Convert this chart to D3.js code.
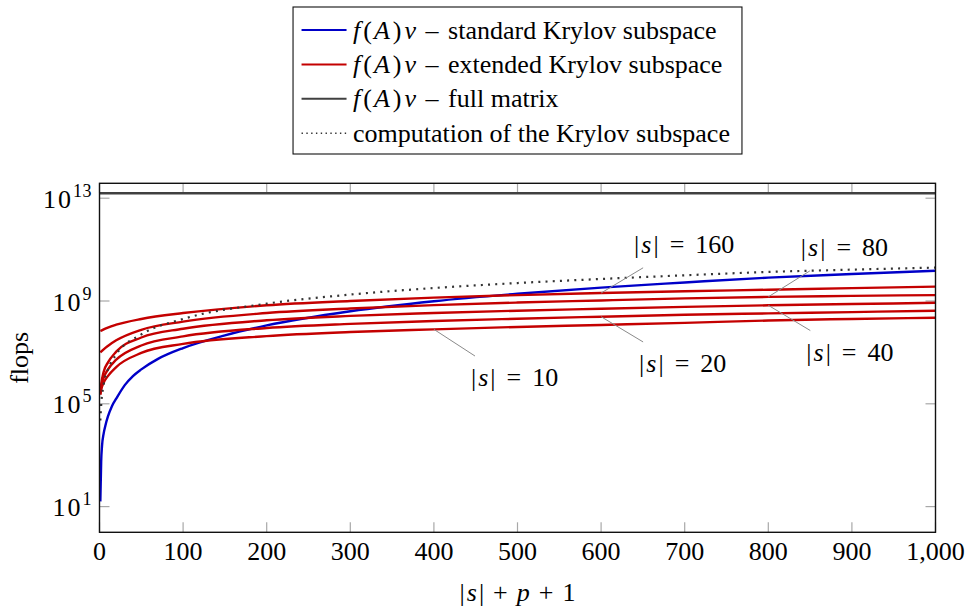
<!DOCTYPE html>
<html>
<head>
<meta charset="utf-8">
<script src="https://cdn.jsdelivr.net/npm/d3@7"></script>
<style>
    html, body { margin: 0; padding: 0; background: #fff; }
    svg { display: block; }
</style>
</head>
<body>
<svg id="chart" width="966" height="609" font-family="'Liberation Serif', 'Times New Roman', serif"></svg>
<script>
// values (flops against |s|+p+1)
const xs = [1, 2, 5, 10, 20, 50, 100, 200, 300, 400, 500, 600, 700, 800, 900, 1000];
const standardX = [1, 2, 3, 5, 7, 10, 15, 20, 30, 40, 50, 70, 100, 150, 200, 300, 400, 500,
    600, 700, 800, 900, 1000];
const standardKrylov = [16, 5.6e2, 2.24e3, 7.1e3, 1.41e4, 3.16e4, 8.3e4, 1.58e5, 5.2e5, 1.2e6,
    2.19e6, 5.6e6, 1.48e7, 4.6e7, 1.12e8, 3.98e8, 9.77e8, 1.91e9, 3.31e9, 5.25e9, 8.13e9,
    1.12e10, 1.51e10];
const extended160 = [6.9e7, 7.1e7, 7.9e7, 9.3e7, 1.2e8, 2.0e8, 3.4e8, 6.8e8, 1.0e9, 1.35e9,
    1.7e9, 2.04e9, 2.4e9, 2.75e9, 3.16e9, 3.63e9];
const extended80 = [1.0e7, 1.07e7, 1.32e7, 1.78e7, 2.95e7, 7.6e7, 1.58e8, 3.4e8, 5.1e8, 6.9e8,
    8.7e8, 1.05e9, 1.26e9, 1.45e9, 1.58e9, 1.7e9];
const extended40 = [2.8e5, 5.6e5, 1.78e6, 4.0e6, 1.07e7, 3.8e7, 8.3e7, 1.78e8, 2.63e8, 3.4e8,
    4.2e8, 5.0e8, 5.9e8, 6.8e8, 7.6e8, 8.5e8];
const extended20 = [2.5e5, 4.5e5, 1.05e6, 2.14e6, 5.2e6, 1.86e7, 4.2e7, 8.9e7, 1.29e8, 1.66e8,
    2.04e8, 2.45e8, 2.9e8, 3.3e8, 3.7e8, 4.2e8];
const extended10 = [2.24e5, 3.55e5, 6.6e5, 1.2e6, 2.7e6, 9.5e6, 2.14e7, 4.3e7, 6.2e7, 7.9e7,
    9.8e7, 1.17e8, 1.41e8, 1.74e8, 2.0e8, 2.24e8];
const fullMatrixX = [0, 1000];
const fullMatrix = [1.55e13, 1.55e13];
const krylovSubspace = [2.24e4, 8.9e4, 5.6e5, 2.1e6, 8.3e6, 5.0e7, 2.0e8, 7.9e8, 1.78e9, 3.2e9,
    5.0e9, 7.2e9, 1.0e10, 1.35e10, 1.66e10, 2.0e10];

const poleCounts = [160, 80, 40, 20, 10];
const extendedSeries = [extended160, extended80, extended40, extended20, extended10];
const pinX = [600, 800, 800, 600, 400];

const xTicks = [0, 100, 200, 300, 400, 500, 600, 700, 800, 900, 1000];
const yTicks = [1e1, 1e5, 1e9, 1e13];

const Color = {
    blue: '#0000c8',
    red: '#c40000',
    full: '#404040',
    dots: '#333',
    tick: '#a8a8a8',
    pin: '#8a8a8a',
};
const Font = 26;
const Plot = { left: 99.5, right: 935.5, top: 183.3, bottom: 532.3 };

const svg = d3.select('#chart');

const x = d3.scaleLinear().domain([0, 1000]).range([Plot.left, Plot.right]);
const y = d3.scaleLog().domain([1, 10 ** 13.58]).range([Plot.bottom, Plot.top]);

// text made of parts [text, italic, dx] so math bits get italic and some room
function mathText(sel, parts) {
    parts.forEach(([t, it, dx]) => {
        sel.append('tspan')
            .attr('font-style', it ? 'italic' : 'normal')
            .attr('dx', dx || 0)
            .text(t);
    });
    return sel;
}

svg.append('defs').append('clipPath')
    .attr('id', 'plot-clip')
    .append('rect')
    .attr('x', Plot.left)
    .attr('y', Plot.top)
    .attr('width', Plot.right - Plot.left)
    .attr('height', Plot.bottom - Plot.top);

// ticks (inside, on all four sides)
const ticks = svg.append('g')
    .attr('stroke', Color.tick)
    .attr('stroke-width', 1.2);

ticks.selectAll('.xb')
    .data(xTicks)
    .join('line')
    .attr('x1', (d) => x(d)).attr('x2', (d) => x(d))
    .attr('y1', Plot.bottom).attr('y2', Plot.bottom - 10);
ticks.selectAll('.xt')
    .data(xTicks)
    .join('line')
    .attr('x1', (d) => x(d)).attr('x2', (d) => x(d))
    .attr('y1', Plot.top).attr('y2', Plot.top + 10);
ticks.selectAll('.yl')
    .data(yTicks)
    .join('line')
    .attr('x1', Plot.left).attr('x2', Plot.left + 10)
    .attr('y1', (d) => y(d)).attr('y2', (d) => y(d));
ticks.selectAll('.yr')
    .data(yTicks)
    .join('line')
    .attr('x1', Plot.right).attr('x2', Plot.right - 10)
    .attr('y1', (d) => y(d)).attr('y2', (d) => y(d));

// curves
const line = d3.line()
    .x((d) => x(d[0]))
    .y((d) => y(d[1]))
    .curve(d3.curveMonotoneX);

const curves = svg.append('g')
    .attr('clip-path', 'url(#plot-clip)')
    .attr('fill', 'none')
    .attr('stroke-linejoin', 'round');

curves.append('path')
    .attr('d', line(d3.zip(standardX, standardKrylov)))
    .attr('stroke', Color.blue)
    .attr('stroke-width', 2.4);

curves.selectAll('.ext')
    .data(extendedSeries)
    .join('path')
    .attr('d', (d) => line(d3.zip(xs, d)))
    .attr('stroke', Color.red)
    .attr('stroke-width', 2.4);

curves.append('path')
    .attr('d', line(d3.zip(fullMatrixX, fullMatrix)))
    .attr('stroke', Color.full)
    .attr('stroke-width', 2.4);

curves.append('path')
    .attr('d', line(d3.zip(xs, krylovSubspace)))
    .attr('stroke', Color.dots)
    .attr('stroke-width', 2.2)
    .attr('stroke-dasharray', '2 5.2');

// pins for |s| labels
const pinLen = 49;
const pinAngle = [31, 32, -31, -31, -33];
const pins = svg.append('g');
poleCounts.forEach((s, i) => {
    const px = x(pinX[i]);
    const py = y(extendedSeries[i][xs.indexOf(pinX[i])]);
    const a = (pinAngle[i] * Math.PI) / 180;
    const ex = px + pinLen * Math.cos(a);
    const ey = py - pinLen * Math.sin(a);
    pins.append('line')
        .attr('x1', px).attr('y1', py)
        .attr('x2', ex).attr('y2', ey)
        .attr('stroke', Color.pin)
        .attr('stroke-width', 1);
    const up = pinAngle[i] > 0;
    mathText(pins.append('text')
        .attr('x', up ? ex - 9 : ex - 4)
        .attr('y', up ? ey - 15 : ey + 30)
        .attr('font-size', Font),
    [['|', 0], ['s', 1, 2], ['|', 0, 2], ['=', 0, 11], [String(s), 0, 11]]);
});

// frame
svg.append('rect')
    .attr('x', Plot.left)
    .attr('y', Plot.top)
    .attr('width', Plot.right - Plot.left)
    .attr('height', Plot.bottom - Plot.top)
    .attr('fill', 'none')
    .attr('stroke', '#111')
    .attr('stroke-width', 1.4);

// tick labels
svg.append('g')
    .attr('font-size', Font)
    .attr('text-anchor', 'middle')
    .selectAll('text')
    .data(xTicks)
    .join('text')
    .attr('x', (d) => x(d))
    .attr('y', 559.7)
    .text(d3.format(','));

const yLabels = svg.append('g')
    .attr('font-size', Font)
    .attr('text-anchor', 'end')
    .attr('letter-spacing', 2)
    .selectAll('text')
    .data(yTicks)
    .join('text')
    .attr('x', 92)
    .attr('y', (d) => y(d) + 9.5);
yLabels.append('tspan').text('10');
yLabels.append('tspan')
    .attr('font-size', 18)
    .attr('letter-spacing', 0.5)
    .attr('dy', -11)
    .text((d) => Math.round(Math.log10(d)));

// axis titles
mathText(svg.append('text')
    .attr('x', (Plot.left + Plot.right) / 2)
    .attr('y', 601)
    .attr('text-anchor', 'middle')
    .attr('font-size', Font),
[['|', 0], ['s', 1, 2], ['|', 0, 2], ['+', 0, 9], ['p', 1, 9], ['+', 0, 9], ['1', 0, 9]]);

svg.append('text')
    .attr('transform', `translate(28, ${(Plot.top + Plot.bottom) / 2}) rotate(-90)`)
    .attr('text-anchor', 'middle')
    .attr('font-size', Font)
    .text('flops');

// legend
const legendItems = [
    { text: 'standard Krylov subspace', math: true, color: Color.blue, dash: null },
    { text: 'extended Krylov subspace', math: true, color: Color.red, dash: null },
    { text: 'full matrix', math: true, color: Color.full, dash: null },
    { text: 'computation of the Krylov subspace', math: false, color: Color.dots, dash: '1.4 3.4' },
];
const legend = svg.append('g');
const rowY = (i) => 30 + i * 34.4;
const legendBox = legend.append('rect')
    .attr('fill', '#fff')
    .attr('stroke', '#111')
    .attr('stroke-width', 1.1);
let maxLen = 0;
legendItems.forEach((d, i) => {
    legend.append('line')
        .attr('x1', 0).attr('x2', 45)
        .attr('y1', rowY(i)).attr('y2', rowY(i))
        .attr('stroke', d.color)
        .attr('stroke-width', d.dash ? 1.6 : 2)
        .attr('stroke-dasharray', d.dash);
    const parts = d.math
        ? [['f', 1], ['(', 0, 3], ['A', 1, 2], [')', 0, 3], ['v', 1, 3], [' – ', 0, 3], [d.text, 0, 3]]
        : [[d.text, 0]];
    const t = mathText(legend.append('text')
        .attr('x', 51.5)
        .attr('y', rowY(i) + 8.5)
        .attr('font-size', Font), parts);
    const bb = t.node().getBBox();
    maxLen = Math.max(maxLen, bb.x + bb.width - 51.5);
});
const boxW = 51.5 + maxLen + 12 + 8.5;
legendBox
    .attr('x', -8.5)
    .attr('y', 7)
    .attr('width', boxW)
    .attr('height', 147);
legend.attr('transform', `translate(${(Plot.left + Plot.right) / 2 - boxW / 2 + 8.5}, 0)`);
</script>
</body>
</html>
